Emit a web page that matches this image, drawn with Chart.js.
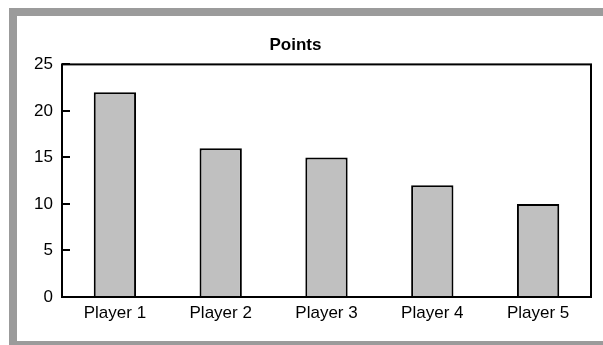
<!DOCTYPE html>
<html>
<head>
<meta charset="utf-8">
<script src="https://cdn.jsdelivr.net/npm/chart.js@4/dist/chart.umd.min.js"></script>
<style>
  html, body { margin: 0; padding: 0; background: #fff; overflow: hidden; }
  #wrap { position: relative; width: 603px; height: 345px; }
  /* marco gris alrededor del grafico */
  #marco {
    position: absolute; left: 9px; top: 8px; width: 620px; height: 341px;
    border: 8px solid #9b9b9b; box-sizing: border-box;
  }
  canvas { position: absolute; left: 0; top: 0; }
</style>
</head>
<body>
<div id="wrap">
  <div id="marco"></div>
  <canvas id="chartBar" width="603" height="345"></canvas>
</div>
<script>
    // Datos del grafico
    const jugadores = ["Player 1", "Player 2", "Player 3", "Player 4", "Player 5"];
    const puntos = [22, 16, 15, 12, 10];
    const ticksY = [0, 5, 10, 15, 20, 25];

    const fuente = "'Liberation Sans', Arial, sans-serif";

    // Plugin para el recuadro del area y las marcas hacia dentro
    const recuadro = {
        id: "recuadro",
        afterDatasetsDraw(chart) {
            const ctx = chart.ctx;
            const a = chart.chartArea;
            const y = chart.scales.y;
            ctx.save();
            ctx.strokeStyle = "#000";
            ctx.lineWidth = 2;
            ctx.strokeRect(a.left, a.top, a.right - a.left, a.bottom - a.top);
            ctx.beginPath();
            ticksY.forEach(function(v) {
                const py = Math.round(y.getPixelForValue(v));
                ctx.moveTo(a.left, py);
                ctx.lineTo(a.left + 8, py);
            });
            ctx.stroke();
            ctx.restore();
        }
    };

    const data = {
        labels: jugadores,
        datasets: [{
            label: "Points",
            data: puntos,
            backgroundColor: "#c0c0c0",
            borderColor: "#000",
            borderWidth: 2,
            barPercentage: 0.4,
            categoryPercentage: 1.0,
        }],
    };

    const configBarChart = {
        type: "bar",
        data,
        options: {
            responsive: false,
            animation: false,
            layout: { padding: { left: 0, right: 12, top: 26, bottom: 0 } },
            plugins: {
                legend: { display: false },
                tooltip: { enabled: false },
                title: {
                    display: true,
                    text: "Points",
                    color: "#000",
                    font: { family: fuente, size: 17, weight: "bold" },
                    padding: { top: 9, bottom: 9 },
                },
            },
            scales: {
                x: {
                    grid: { display: false, drawTicks: false },
                    border: { display: false },
                    ticks: { color: "#000", padding: 6, font: { family: fuente, size: 17 } },
                    afterFit: function(s) { s.height = 48; },
                },
                y: {
                    min: 0,
                    max: 25,
                    grid: { display: false, drawTicks: false },
                    border: { display: false },
                    ticks: { stepSize: 5, color: "#000", padding: 9, font: { family: fuente, size: 17 } },
                    afterFit: function(s) { s.width = 62; },
                },
            },
        },
        plugins: [recuadro],
    };

    var chartBar = new Chart(
        document.getElementById("chartBar"),
        configBarChart
    );
</script>
</body>
</html>
